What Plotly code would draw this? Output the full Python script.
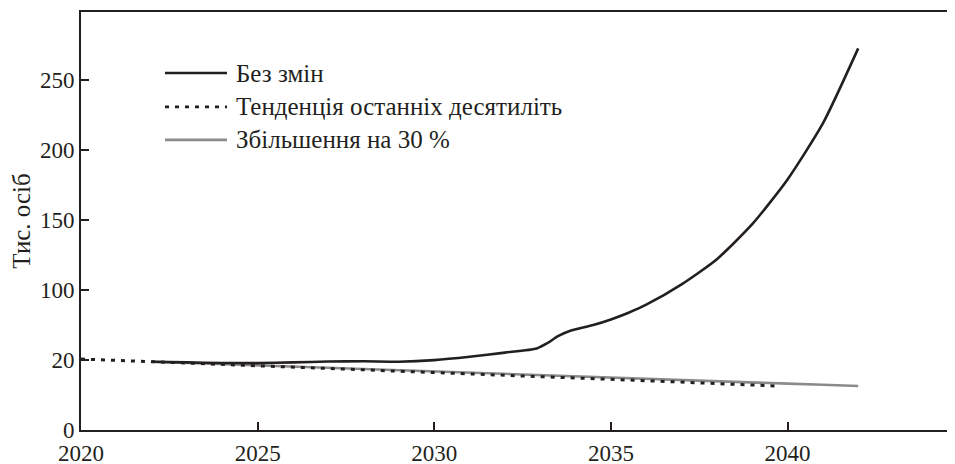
import plotly.graph_objects as go

# ---- data (y in axis units; tick labelled "20" sits at 50) ----
years_base = [2022, 2023, 2024, 2025, 2026, 2027, 2028, 2029, 2030, 2031, 2032,
              2032.9, 2033.2, 2033.5, 2033.85, 2034.5, 2035, 2035.5, 2036, 2037,
              2038, 2039, 2040, 2041, 2042]
vals_base = [48.8, 48.3, 47.9, 47.8, 48.3, 48.9, 49.1, 48.8, 49.9, 52.3, 55.3,
             58.3, 62.0, 67.0, 70.9, 75.0, 79.0, 83.8, 89.5, 104.0,
             122.0, 147.0, 179.0, 219.0, 272.6]

years_trend = [2020, 2021, 2022, 2023, 2024, 2025, 2026, 2027, 2028, 2029, 2030,
               2031, 2032, 2033, 2034, 2035, 2036, 2037, 2038, 2039, 2039.7]
vals_trend = [50.7, 49.8, 48.7, 47.8, 46.8, 45.9, 44.9, 43.9, 43.0, 42.0, 41.1,
              40.1, 39.1, 38.2, 37.1, 36.1, 35.2, 34.2, 33.2, 32.2, 31.4]

years_up30 = [2022, 2023, 2024, 2025, 2026, 2027, 2028, 2029, 2030, 2031, 2032,
              2033, 2034, 2035, 2036, 2037, 2038, 2039, 2040, 2041, 2042]
vals_up30 = [48.8, 47.9, 47.0, 46.2, 45.3, 44.4, 43.6, 42.7, 41.9, 41.0, 40.1,
             39.3, 38.3, 37.3, 36.5, 35.6, 34.8, 34.0, 33.1, 32.3, 31.4]

names = ["Без змін", "Тенденція останніх десятиліть", "Збільшення на 30 %"]

x_ticks = [2020, 2025, 2030, 2035, 2040]
y_tickvals = [0, 50, 100, 150, 200, 250]
y_ticktext = ["0", "20", "100", "150", "200", "250"]
y_title = "Тис. осіб"

INK = "#231f20"
GRAY = "#8a8a8a"
FONT = "Liberation Serif"

styles = [
    dict(color=INK, width=2.6, dash="solid"),
    dict(color=INK, width=3, dash="4px,6px"),
    dict(color=GRAY, width=2.6, dash="solid"),
]

fig = go.Figure()
fig.add_trace(go.Scatter(x=years_up30, y=vals_up30, mode="lines", name=names[2],
                         line=styles[2], showlegend=False))
fig.add_trace(go.Scatter(x=years_trend, y=vals_trend, mode="lines", name=names[1],
                         line=styles[1], showlegend=False))
fig.add_trace(go.Scatter(x=years_base, y=vals_base, mode="lines", name=names[0],
                         line=dict(**styles[0], shape="spline", smoothing=0.6),
                         showlegend=False))

# manual legend (line samples + labels)
leg_rows = [0.854, 0.773, 0.694]
for name, st, yy in zip(names, styles, leg_rows):
    fig.add_shape(type="line", xref="paper", yref="paper", x0=0.0961, x1=0.167,
                  y0=yy, y1=yy,
                  line=dict(color=st["color"], width=st["width"] if st["dash"] == "solid" else 2.6,
                            dash=st["dash"]))
    fig.add_annotation(xref="paper", yref="paper", x=0.1755, y=yy, text=name,
                       showarrow=False, xanchor="left", yanchor="middle",
                       font=dict(family=FONT, size=25, color=INK))

# page body has an 8px margin: compensate so the plot area lands at x 81..955, y 12..430
fig.update_layout(
    width=947, height=462,
    margin=dict(l=73, r=0, t=4, b=40),
    paper_bgcolor="white", plot_bgcolor="white",
    font=dict(family=FONT, size=23, color=INK),
    showlegend=False,
)
fig.update_xaxes(range=[2020, 2044.74], tickvals=x_ticks, ticks="inside", ticklen=8,
                 tickwidth=1.5, tickcolor=INK, showline=True, linecolor=INK, linewidth=1.8,
                 mirror=True, showgrid=False, zeroline=False, ticklabelstandoff=1,
                 automargin=False,
                 tickfont=dict(family=FONT, size=23, color=INK))
fig.update_yaxes(range=[0, 298.6], tickvals=y_tickvals, ticktext=y_ticktext,
                 ticks="inside", ticklen=8, tickwidth=1.5, tickcolor=INK,
                 showline=True, linecolor=INK, linewidth=1.8, showgrid=False,
                 zeroline=False, automargin=False,
                 tickfont=dict(family=FONT, size=23, color=INK),
                 title=dict(text=y_title, font=dict(family=FONT, size=25, color=INK), standoff=9))

fig.write_html("out.html")
